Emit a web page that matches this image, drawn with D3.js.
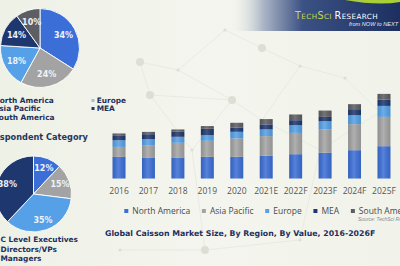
<!DOCTYPE html>
<html>
<head>
<meta charset="utf-8">
<script src="https://cdn.jsdelivr.net/npm/d3@7"></script>
<style>
  body { margin: 0; background: #f1f3ea; overflow: hidden; }
  svg { display: block; }
</style>
</head>
<body>
<div id="chart"></div>
<script>
// bar chart data (px-scale value units)
var years = ["2016", "2017", "2018", "2019", "2020", "2021E", "2022F", "2023F", "2024F", "2025F"];
var regions = ["North America", "Asia Pacific", "Europe", "MEA", "South America"];
var northAmerica = [21.6, 21.0, 21.0, 21.7, 21.7, 22.7, 24.3, 25.7, 28.3, 32.3];
var asiaPacific = [10.0, 12.3, 14.7, 16.0, 18.3, 19.7, 21.3, 23.3, 26.0, 29.3];
var europe = [6.7, 6.0, 6.0, 5.7, 6.7, 6.7, 7.7, 8.3, 9.0, 11.0];
var mea = [4.3, 5.0, 5.0, 6.3, 4.3, 5.0, 5.0, 4.3, 6.0, 6.3];
var southAmerica = [2.4, 2.3, 2.3, 2.7, 4.7, 5.3, 5.7, 6.3, 5.0, 5.7];

// pie charts
var regionShare = [34, 24, 18, 14, 10];
var respondentNames = ["C Level Executives", "Directors/VPs", "Managers"];
var respondentShare = [12, 15, 35, 38];

var colors = {
    "North America": "#3b6ed6",
    "Asia Pacific": "#a3a3a3",
    "Europe": "#55a0e6",
    "MEA": "#1f376f",
    "South America": "#5d5e63"
};

var svg = d3.select("#chart").append("svg")
    .attr("width", 400)
    .attr("height", 266);

var defs = svg.append("defs");

var bg = defs.append("linearGradient").attr("id", "bg").attr("x1", 0).attr("x2", 1).attr("y1", 0).attr("y2", 0);
bg.append("stop").attr("offset", "0%").attr("stop-color", "#eef1e6");
bg.append("stop").attr("offset", "50%").attr("stop-color", "#f4f5ee");
bg.append("stop").attr("offset", "100%").attr("stop-color", "#f1f3ea");
svg.append("rect").attr("width", 400).attr("height", 266).attr("fill", "url(#bg)");

// faint network in the background
var nodes = [[140, 62], [178, 70], [225, 30], [262, 48], [300, 66], [345, 78], [232, 100], [262, 120],
             [192, 150], [150, 95], [320, 150], [380, 112], [205, 250], [300, 240], [120, 250]];
var links = [[0, 1], [1, 2], [2, 3], [3, 4], [4, 5], [1, 6], [6, 7], [7, 4], [6, 8], [0, 9], [9, 6],
             [7, 10], [10, 11], [5, 11], [8, 12], [12, 13], [10, 13], [9, 8], [14, 12]];
var net = svg.append("g").attr("class", "network");
net.selectAll("line").data(links).enter().append("line")
    .attr("x1", function (d) { return nodes[d[0]][0]; })
    .attr("y1", function (d) { return nodes[d[0]][1]; })
    .attr("x2", function (d) { return nodes[d[1]][0]; })
    .attr("y2", function (d) { return nodes[d[1]][1]; })
    .attr("stroke", "#e0e4d9")
    .attr("stroke-width", 0.6);
net.selectAll("circle").data(nodes).enter().append("circle")
    .attr("cx", function (d) { return d[0]; })
    .attr("cy", function (d) { return d[1]; })
    .attr("r", function (d, i) { return i % 3 == 0 ? 4 : 1.6; })
    .attr("fill", "#dbdfd4");

// banner top right
var ban = defs.append("linearGradient").attr("id", "ban").attr("x1", 0).attr("x2", 1).attr("y1", 0).attr("y2", 0);
ban.append("stop").attr("offset", "0%").attr("stop-color", "#e8ebe6").attr("stop-opacity", 0);
ban.append("stop").attr("offset", "18%").attr("stop-color", "#aeb8c8");
ban.append("stop").attr("offset", "42%").attr("stop-color", "#3c5284");
ban.append("stop").attr("offset", "100%").attr("stop-color", "#1c2f60");
svg.append("rect").attr("x", 232).attr("y", 0).attr("width", 168).attr("height", 31).attr("fill", "url(#ban)");
svg.append("path")
    .attr("d", "M345,0 Q378,6 400,2 L400,0 Z")
    .attr("fill", "#a8cf3a");

var logo = svg.append("text")
    .attr("x", 295).attr("y", 18.5)
    .style("font-family", "'DejaVu Sans', sans-serif")
    .style("letter-spacing", "0.4px");
logo.append("tspan").attr("fill", "#c3dc45").style("font-size", "9.6px").text("T");
logo.append("tspan").attr("fill", "#c3dc45").style("font-size", "7.2px").text("ECH");
logo.append("tspan").attr("fill", "#c3dc45").style("font-size", "9.6px").text("S");
logo.append("tspan").attr("fill", "#c3dc45").style("font-size", "7.2px").text("CI ");
logo.append("tspan").attr("fill", "#ffffff").style("font-size", "9.6px").text("R");
logo.append("tspan").attr("fill", "#ffffff").style("font-size", "7.2px").text("ESEARCH");
svg.append("text")
    .attr("x", 349).attr("y", 26)
    .attr("fill", "#e6ecf6")
    .style("font-family", "'Liberation Sans', sans-serif")
    .style("font-style", "italic")
    .style("font-size", "5.6px")
    .text("from NOW to NEXT");

// stacked bars
var table = years.map(function (y, i) {
    return {
        year: y,
        "North America": northAmerica[i],
        "Asia Pacific": asiaPacific[i],
        "Europe": europe[i],
        "MEA": mea[i],
        "South America": southAmerica[i]
    };
});
var stack = d3.stack().keys(regions)(table);

var x = d3.scaleBand().domain(years).range([104.3, 398.7]).paddingInner(0.56).paddingOuter(0.28);
var y = d3.scaleLinear().domain([0, 100]).range([178.5, 78.5]);

var shine = defs.append("linearGradient").attr("id", "shine").attr("x1", 0).attr("x2", 1).attr("y1", 0).attr("y2", 0);
shine.append("stop").attr("offset", "0%").attr("stop-color", "#000").attr("stop-opacity", 0.12);
shine.append("stop").attr("offset", "45%").attr("stop-color", "#fff").attr("stop-opacity", 0.14);
shine.append("stop").attr("offset", "100%").attr("stop-color", "#000").attr("stop-opacity", 0.1);

svg.append("g").attr("class", "bars")
    .selectAll("g")
    .data(stack)
    .enter()
    .append("g")
    .attr("fill", function (d) { return colors[d.key]; })
    .selectAll("rect")
    .data(function (d) { return d; })
    .enter()
    .append("rect")
    .attr("x", function (d) { return x(d.data.year); })
    .attr("y", function (d) { return y(d[1]); })
    .attr("width", x.bandwidth())
    .attr("height", function (d) { return y(d[0]) - y(d[1]); });

svg.append("g").attr("class", "bar-shine")
    .selectAll("rect")
    .data(stack[stack.length - 1])
    .enter()
    .append("rect")
    .attr("x", function (d) { return x(d.data.year); })
    .attr("y", function (d) { return y(d[1]); })
    .attr("width", x.bandwidth())
    .attr("height", function (d) { return y(0) - y(d[1]); })
    .attr("fill", "url(#shine)");

var xAxis = svg.append("g")
    .attr("transform", "translate(0," + y(0) + ")")
    .call(d3.axisBottom(x).tickSize(0).tickPadding(9.5));
xAxis.select(".domain").remove();
xAxis.selectAll("text")
    .attr("fill", "#555")
    .style("font-family", "'Open Sans', sans-serif")
    .style("font-size", "8.5px");

// bottom legend
var legend = svg.append("g").attr("class", "legend");
var lx = 124.3;
regions.forEach(function (r) {
    legend.append("rect")
        .attr("x", lx).attr("y", 209)
        .attr("width", 4).attr("height", 4)
        .attr("fill", colors[r]);
    var t = legend.append("text")
        .attr("x", lx + 8).attr("y", 214)
        .attr("fill", "#4a4a4a")
        .style("font-family", "'Open Sans', sans-serif")
        .style("font-size", "8.5px")
        .text(r);
    lx += 8 + t.node().getComputedTextLength() + 11.7;
});

svg.append("text")
    .attr("x", 358).attr("y", 221)
    .attr("fill", "#8a8a8a")
    .style("font-family", "'Liberation Sans', sans-serif")
    .style("font-style", "italic")
    .style("font-size", "5px")
    .text("Source: TechSci Research");

svg.append("text")
    .attr("x", 105).attr("y", 235.5)
    .attr("fill", "#1d2f5d")
    .style("font-family", "'DejaVu Sans', sans-serif")
    .style("font-weight", "bold")
    .style("font-size", "7.8px")
    .text("Global Caisson Market Size, By Region, By Value, 2016-2026F");

// pie helpers
function drawPie(values, fills, cx, cy, r, labelRatio) {
    var pie = d3.pie().sort(null).value(function (d) { return d; });
    var arc = d3.arc().innerRadius(0).outerRadius(r);
    var labelArc = d3.arc().innerRadius(r * labelRatio).outerRadius(r * labelRatio);
    var g = svg.append("g").attr("transform", "translate(" + cx + "," + cy + ")");
    var arcs = pie(values);
    g.selectAll("path").data(arcs).enter().append("path")
        .attr("d", arc)
        .attr("fill", function (d, i) { return fills[i]; })
        .attr("stroke", "#ffffff")
        .attr("stroke-width", 0.9);
    g.selectAll("text").data(arcs).enter().append("text")
        .attr("transform", function (d) { return "translate(" + labelArc.centroid(d) + ")"; })
        .attr("text-anchor", "middle")
        .attr("dy", "0.36em")
        .attr("fill", "#eef3fb")
        .style("font-family", "'DejaVu Sans', sans-serif")
        .style("font-weight", "bold")
        .style("font-size", "8px")
        .text(function (d) { return d.data + "%"; });
}

drawPie(regionShare, [colors["North America"], colors["Asia Pacific"], colors["Europe"], colors["MEA"], colors["South America"]],
    40, 48, 39.5, 0.68);
drawPie(respondentShare, [colors["North America"], colors["Asia Pacific"], colors["Europe"], colors["MEA"]],
    33.5, 194, 38, 0.74);

// pie 1 legend
var legendFont = function (sel) {
    sel.attr("fill", "#1f2f5c")
        .style("font-family", "'DejaVu Sans', sans-serif")
        .style("font-weight", "bold")
        .style("font-size", "7.4px");
};
var leftNames = [regions[0], regions[1], regions[4]];
var rightNames = [regions[2], regions[3]];
leftNames.forEach(function (n, i) {
    svg.append("rect").attr("x", -12).attr("y", 98 + i * 8.5).attr("width", 3).attr("height", 3).attr("fill", colors[n]);
    svg.append("text").attr("x", -6.5).attr("y", 102.5 + i * 8.5).call(legendFont).text(n);
});
rightNames.forEach(function (n, i) {
    svg.append("rect").attr("x", 91.5).attr("y", 99 + i * 8).attr("width", 3).attr("height", 3)
        .attr("fill", n == "Europe" ? "#a9bcd6" : colors[n]);
    svg.append("text").attr("x", 96.7).attr("y", 103.3 + i * 8).call(legendFont).text(n);
});

svg.append("text")
    .attr("x", -12).attr("y", 140)
    .attr("fill", "#23375f")
    .style("font-family", "'DejaVu Sans', sans-serif")
    .style("font-weight", "bold")
    .style("font-size", "8.2px")
    .text("Respondent Category");

respondentNames.forEach(function (n, i) {
    svg.append("text").attr("x", 0.5).attr("y", 242 + i * 9.6).call(legendFont).text(n);
});
</script>
</body>
</html>
